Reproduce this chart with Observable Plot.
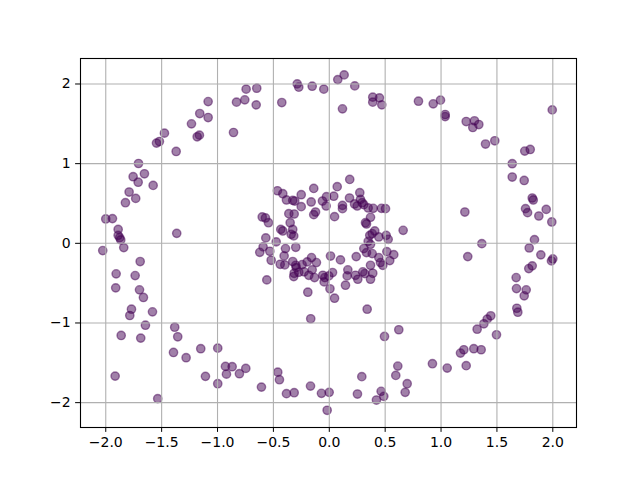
<!DOCTYPE html>
<html>
<head>
<meta charset="utf-8">
<script src="https://cdn.jsdelivr.net/npm/d3@7"></script>
<script src="https://cdn.jsdelivr.net/npm/@observablehq/plot@0.6"></script>
<style>
  html, body { margin: 0; padding: 0; background: white; }
</style>
</head>
<body>
<div id="chart"></div>
<script>
const xValues = [
  -1.159,-1.233,-1.162,-1.182,-1.475,-1.520,-1.546,-1.370,-1.707,-1.654,-1.755,
  -1.084,-1.084,-0.857,-0.830,-0.756,-0.654,-0.744,-0.649,-0.425,-0.287,-0.273,-0.153,-0.049,
  0.076,0.133,0.228,0.118,0.389,0.389,0.449,0.470,0.798,0.930,0.995,1.037,1.037,0.183,
  1.995,1.225,1.299,1.284,1.338,1.398,1.481,1.749,1.798,1.637,1.637,1.744,
  -1.710,-1.576,-1.791,-1.732,-1.824,-2.000,-1.940,-1.889,-1.889,-1.875,-1.866,-1.365,-2.027,-1.839,-1.692,-1.907,-1.737,-1.911,-1.698,-1.663,
  -0.464,-0.416,-0.383,-0.327,-0.309,-0.251,-0.251,-0.139,-0.162,-0.061,-0.025,-0.028,-0.600,-0.571,-0.544,-0.362,-0.314,-0.350,-0.139,-0.123,
  -0.434,-0.416,-0.327,-0.341,-0.318,-0.568,-0.475,-0.592,-0.622,-0.532,-0.392,-0.300,-0.520,-0.404,-0.439,-0.398,-0.327,-0.300,-0.296,-0.243,
  -0.159,-0.198,-0.115,-0.153,-0.225,-0.318,-0.314,-0.273,-0.183,-0.132,-0.058,-0.040,0.011,-0.004,-0.046,0.006,-0.559,-0.192,
  0.071,0.040,0.047,0.181,0.118,0.118,0.226,0.250,0.279,0.294,0.309,0.273,0.348,0.393,0.467,0.503,0.369,0.324,0.333,0.661,
  0.407,0.384,0.362,0.443,0.509,0.527,0.348,0.369,0.309,0.333,0.384,0.515,0.577,0.443,0.541,0.458,0.479,0.241,0.100,0.369,
  0.166,0.160,0.234,0.255,0.300,0.318,0.389,0.369,0.029,0.145,0.047,
  1.816,1.825,1.213,1.756,1.774,1.875,1.941,1.991,1.365,1.239,1.836,1.789,1.893,2.000,1.988,1.785,1.816,1.672,1.675,1.762,1.744,
  -1.770,-1.785,-1.582,-1.645,-1.862,-1.687,-1.383,-1.356,-1.394,-1.281,-1.150,-1.916,-1.108,-1.535,
  -0.998,-0.929,-0.869,-0.920,-0.747,-0.804,-0.998,-0.607,-0.461,-0.446,-0.383,-0.314,-0.166,-0.168,-0.070,-0.001,-0.019,
  0.339,0.622,0.494,0.291,0.252,0.422,0.464,0.488,0.613,0.595,0.697,0.679,0.923,1.055,
  1.678,1.687,1.445,1.413,1.383,1.323,1.496,1.204,1.174,1.293,1.359,1.225
];
const yValues = [
  1.629,1.500,1.358,1.337,1.383,1.278,1.258,1.153,1.002,0.873,0.836,
  1.779,1.579,1.391,1.772,1.801,1.738,1.935,1.947,1.767,2.001,1.960,1.972,1.935,
  2.055,2.114,1.976,1.688,1.835,1.772,1.826,1.738,1.784,1.751,1.797,1.617,1.591,0.802,
  1.675,1.529,1.538,1.454,1.491,1.246,1.287,1.158,1.178,0.999,0.832,0.789,
  0.767,0.727,0.644,0.564,0.510,0.306,0.310,0.175,0.100,0.071,0.043,0.125,-0.091,-0.054,-0.229,-0.383,-0.405,-0.559,-0.584,-0.680,
  0.660,0.623,0.544,0.539,0.531,0.610,0.460,0.689,0.519,0.531,0.585,0.469,0.331,0.318,0.259,0.372,0.368,0.259,0.360,0.393,
  0.175,0.155,0.175,0.113,0.093,0.068,0.018,-0.045,-0.113,-0.100,-0.066,-0.050,-0.213,-0.158,-0.263,-0.271,-0.229,-0.276,-0.305,-0.267,
  -0.179,-0.233,-0.242,-0.333,-0.358,-0.417,-0.376,-0.363,-0.401,-0.430,-0.401,-0.430,-0.160,-0.409,-0.484,-0.571,-0.459,-0.614,
  0.711,0.591,0.335,0.569,0.476,0.435,0.494,0.469,0.551,0.510,0.485,0.635,0.444,0.439,0.439,0.435,0.326,0.259,0.243,0.163,
  0.155,0.122,0.100,0.080,0.100,0.050,0.025,-0.013,-0.066,-0.117,-0.129,-0.104,-0.142,-0.179,-0.217,-0.242,-0.276,-0.167,-0.208,-0.276,
  -0.333,-0.409,-0.401,-0.451,-0.358,-0.380,-0.376,-0.451,-0.367,-0.526,-0.689,
  0.569,0.544,0.393,0.435,0.385,0.343,0.426,0.268,-0.004,-0.167,0.046,-0.058,-0.145,-0.195,-0.221,-0.317,-0.283,-0.430,-0.568,-0.584,-0.659,
  -0.827,-0.906,-0.860,-1.028,-1.157,-1.190,-1.053,-1.173,-1.370,-1.436,-1.323,-1.667,-1.670,-1.950,
  -1.316,-1.545,-1.549,-1.642,-1.570,-1.637,-1.762,-1.805,-1.617,-1.712,-1.887,-1.875,-0.947,-1.792,-1.883,-1.871,-2.096,
  -0.827,-1.085,-1.169,-1.674,-1.892,-1.967,-1.858,-1.921,-1.541,-1.658,-1.762,-1.871,-1.511,-1.566,
  -0.815,-0.865,-0.910,-0.952,-1.010,-1.078,-1.148,-1.336,-1.378,-1.323,-1.336,-1.536
];
const xTicks = [-2, -1.5, -1, -0.5, 0, 0.5, 1, 1.5, 2];
const xTickLabels = ["−2.0", "−1.5", "−1.0", "−0.5", "0.0", "0.5", "1.0", "1.5", "2.0"];
const yTicks = [-2, -1, 0, 1, 2];
const yTickLabels = ["−2", "−1", "0", "1", "2"];

const n = Math.min(xValues.length, yValues.length);
const points = d3.range(n).map(i => ({x: xValues[i], y: yValues[i]}));

const chart = Plot.plot({
  width: 640,
  height: 480,
  marginLeft: 80,
  marginRight: 64,
  marginTop: 58,
  marginBottom: 53,
  x: {domain: [-2.226, 2.212]},
  y: {domain: [-2.312, 2.320]},
  style: {fontFamily: "DejaVu Sans", fontSize: "14px", color: "black", background: "white"},
  marks: [
    Plot.dot(points, {x: "x", y: "y", r: 4.17, fill: "#440154", fillOpacity: 0.5,
      stroke: "#440154", strokeOpacity: 0.5, strokeWidth: 1.39}),
    Plot.gridX(xTicks, {stroke: "#b0b0b0", strokeOpacity: 1, strokeWidth: 1.1}),
    Plot.gridY(yTicks, {stroke: "#b0b0b0", strokeOpacity: 1, strokeWidth: 1.1}),
    Plot.frame({stroke: "black", strokeWidth: 1.1}),
    Plot.axisX(xTicks, {tickFormat: d => xTickLabels[xTicks.indexOf(d)], tickSize: 4.9, tickPadding: 4.9, label: null, fontSize: 14}),
    Plot.axisY(yTicks, {tickFormat: d => yTickLabels[yTicks.indexOf(d)], tickSize: 4.9, tickPadding: 4.9, label: null, fontSize: 14})
  ]
});
document.getElementById("chart").appendChild(chart);
</script>
</body>
</html>
